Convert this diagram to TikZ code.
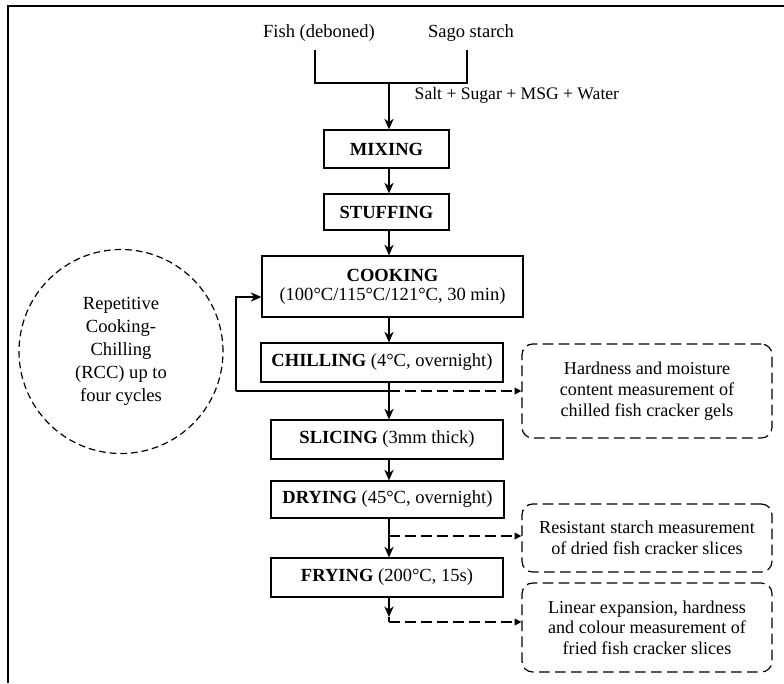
\documentclass[tikz,border=0pt]{standalone}
\usepackage{fontspec}
\setmainfont{Liberation Serif}
\usetikzlibrary{arrows.meta}
\tikzset{
  proc/.style={draw, line width=0.9pt, inner sep=0pt, align=center},
  meas/.style={draw, line width=0.9pt, dash pattern=on 8pt off 4pt, rounded corners=8pt, inner sep=0pt, align=center, font=\fontsize{13.6}{15.5}\selectfont},
  flow/.style={line width=0.9pt, -{Stealth[length=8pt,width=7pt,inset=2.5pt]}},
  mflow/.style={line width=0.9pt, dash pattern=on 8pt off 4pt, -{Triangle[length=5pt,width=5pt]}},
  plain/.style={line width=0.9pt}
}
\begin{document}
\begin{tikzpicture}[x=0.75pt,y=-0.75pt,font=\fontsize{13.9}{15.5}\selectfont]
\useasboundingbox (0,0) rectangle (784,683);
% frame
\draw[line width=1.4pt] (8,683) -- (8,6) -- (784,6);
% inputs
\node (fish) at (319,33) {Fish (deboned)};
\node (sago) at (471,33) {Sago starch};
\coordinate (fa) at (315,50);
\coordinate (fb) at (315,83);
\coordinate (sa) at (467,50);
\coordinate (sb) at (467,83);
\coordinate (j) at (389,83);
\draw[plain] (fa) -- (fb) -- (sb) -- (sa);
\node[anchor=west, font=\fontsize{13.2}{15}\selectfont] (salt) at (410,95) {Salt + Sugar + MSG + Water};
% process boxes
\node[proc, minimum width={125*0.75pt}, minimum height={38*0.75pt}] (mix) at (386.5,149) {\textbf{MIXING}};
\node[proc, minimum width={125*0.75pt}, minimum height={36*0.75pt}] (stuff) at (386.5,212) {\textbf{STUFFING}};
\node[proc, minimum width={261*0.75pt}, minimum height={61*0.75pt}, font=\fontsize{13.9}{14}\selectfont] (cook) at (392.5,286.5) {\textbf{COOKING}\\(100°C/115°C/121°C, 30 min)};
\node[proc, minimum width={242*0.75pt}, minimum height={39*0.75pt}] (chill) at (382,362.5) {\textbf{CHILLING} (4°C, overnight)};
\node[proc, minimum width={232*0.75pt}, minimum height={39*0.75pt}] (slice) at (387,439.5) {\textbf{SLICING} (3mm thick)};
\node[proc, minimum width={233*0.75pt}, minimum height={37*0.75pt}] (dry) at (387.5,499.5) {\textbf{DRYING} (45°C, overnight)};
\node[proc, minimum width={232*0.75pt}, minimum height={39*0.75pt}] (fry) at (387,577.5) {\textbf{FRYING} (200°C, 15s)};
% measurement boxes
\node[meas, minimum width={250*0.75pt}, minimum height={94*0.75pt}] (m1) at (647,391) {Hardness and moisture\\content measurement of\\chilled fish cracker gels};
\node[meas, minimum width={250*0.75pt}, minimum height={68*0.75pt}] (m2) at (647,538) {Resistant starch measurement\\of dried fish cracker slices};
\node[meas, minimum width={250*0.75pt}, minimum height={89*0.75pt}] (m3) at (647,627.5) {Linear expansion, hardness\\and colour measurement of\\fried fish cracker slices};
% RCC circle
\node[draw, circle, line width=0.9pt, dash pattern=on 5pt off 3pt, minimum size={204*0.75pt}, inner sep=0pt, align=center, font=\fontsize{13.9}{17.2}\selectfont] (rcc) at (121,351.5) {Repetitive\\Cooking-\\Chilling\\(RCC) up to\\four cycles};
% main flow
\draw[flow] (j) -- (mix.north -| j);
\draw[flow] (mix.south -| j) -- (stuff.north -| j);
\draw[flow] (stuff.south -| j) -- (cook.north -| j);
\draw[flow] (cook.south -| j) -- (chill.north -| j);
\draw[flow] (chill.south -| j) -- (slice.north -| j);
\draw[flow] (slice.south -| j) -- (dry.north -| j);
\draw[flow] (dry.south -| j) -- (fry.north -| j);
% loop
\coordinate (l1) at (389,391);
\coordinate (l2) at (236,391);
\coordinate (l3) at (236,297);
\draw[plain] (l1) -- (l2);
\draw[flow] (l2) -- (l3) -- (cook.west |- l3);
% measurement links
\draw[mflow] (l1) -- (m1.west |- l1);
\coordinate (d1) at (389,536);
\draw[mflow] (d1) -- (m2.west |- d1);
\coordinate (f1) at (389,617);
\coordinate (f2) at (389,622);
\draw[flow] (fry.south -| j) -- (f1);
\draw[plain] (f1) -- (f2);
\draw[mflow] (f2) -- (m3.west |- f2);
\end{tikzpicture}
\end{document}
